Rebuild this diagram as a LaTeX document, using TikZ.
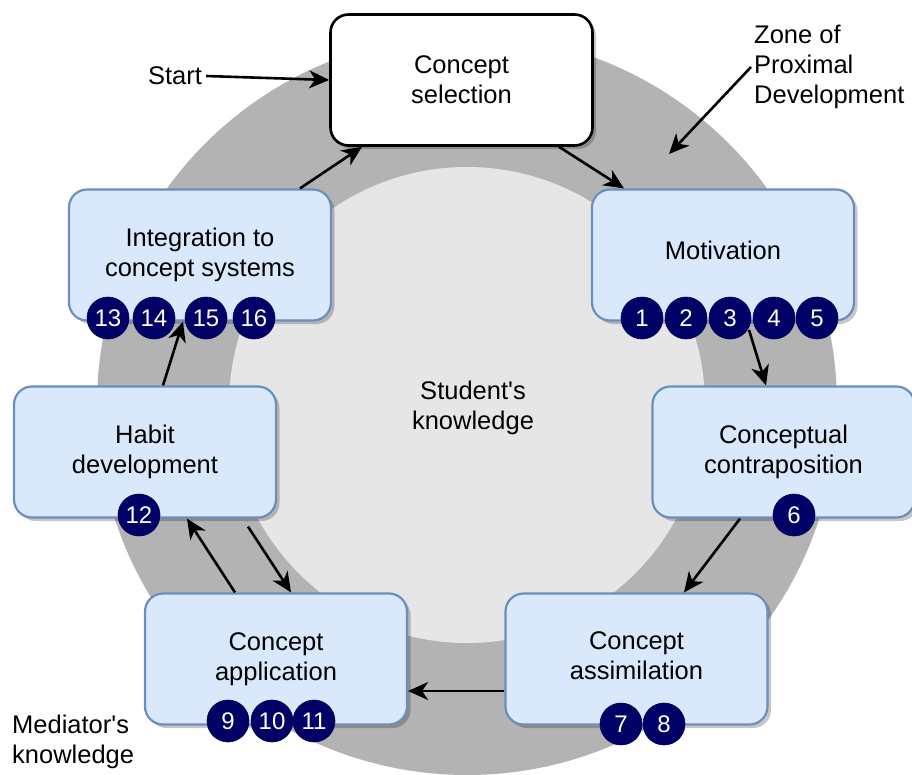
\documentclass[tikz,border=0pt]{standalone}
\usepackage{fontspec}
\setmainfont{Liberation Sans}
\usetikzlibrary{arrows.meta,shadows,calc}
\definecolor{ringgray}{HTML}{B3B3B3}
\definecolor{innergray}{HTML}{E6E6E6}
\definecolor{boxfill}{HTML}{DAE8FC}
\definecolor{boxline}{HTML}{6C8EBF}
\definecolor{badgecol}{HTML}{000066}
\newcommand\dgfont{\fontsize{25.5}{30}\selectfont}
\newcommand\badgefont{\fontsize{24}{24}\selectfont}
\begin{document}
\begin{tikzpicture}[x=1pt,y=-1pt,
  boxshadow/.style={drop shadow={shadow xshift=3.5pt,shadow yshift=-3.5pt,fill=black,opacity=0.22}},
  stagebox/.style={draw=boxline, fill=boxfill, line width=2.2pt, rounded corners=18pt,
    minimum width=262pt, minimum height=131pt, align=center, font=\dgfont, boxshadow},
  startbox/.style={stagebox, draw=black, fill=white, line width=2.6pt},
  badge/.style={circle, minimum size=42pt, inner sep=0pt, fill=badgecol, draw=badgecol!80!black,
    line width=0.6pt, text=white, font=\badgefont},
  plain/.style={inner sep=0pt, font=\dgfont},
  arr/.style={line width=2.6pt, draw=black, -{Stealth[length=20pt,width=18pt,inset=6pt]}}
]
\useasboundingbox (0,0) rectangle (912,774);
% rings
\fill[ringgray] (467,405) circle[radius=370];
\fill[innergray] (467,405) circle[radius=238];

% stage boxes
\node[startbox] (sel) at (461.5,80) {Concept\\selection};
\node[stagebox] (integ) at (200,255) {Integration to\\concept systems};
\node[stagebox, text depth=10pt] (mot) at (723,255) {Motivation};
\node[stagebox] (habit) at (145,452) {Habit\\development};
\node[stagebox] (contra) at (783.5,452) {Conceptual\\contraposition};
\node[stagebox] (app) at (276,659) {Concept\\application};
\node[stagebox, text depth=6pt] (assim) at (636.5,659) {Concept\\assimilation};

% badges
\node[badge] (b1) at (642,318) {1};
\node[badge] (b2) at (686,318) {2};
\node[badge] (b3) at (730,318) {3};
\node[badge] (b4) at (774,318) {4};
\node[badge] (b5) at (817,318) {5};
\node[badge] (b6) at (794,515) {6};
\node[badge] (b7) at (621,724) {7};
\node[badge] (b8) at (664,724) {8};
\node[badge] (b9) at (228,721) {9};
\node[badge] (b10) at (272,721) {10};
\node[badge] (b11) at (314,721) {11};
\node[badge] (b12) at (139,515) {12};
\node[badge] (b13) at (108,318) {13};
\node[badge] (b14) at (154,318) {14};
\node[badge] (b15) at (206,318) {15};
\node[badge] (b16) at (254,318) {16};

% free labels
\node[plain] (start) at (175,76) {Start};
\node[plain, anchor=west, align=left] (zone) at (754,67) {Zone of\\Proximal\\Development};
\node[plain, align=center] (student) at (473,408) {Student\textquotesingle s\\knowledge};
\node[plain, anchor=west, align=left] (mediator) at (12,742) {Mediator\textquotesingle s\\knowledge};

\coordinate (zoneA) at (751,67);
\coordinate (zoneB) at (669,154);

% connectors
\draw[arr] (start.east) ++(4,0) -- (sel.west);
\draw[arr] (zoneA) -- (zoneB);
\draw[arr] ([xshift=100pt]integ.north) -- ([xshift=-99.5pt]sel.south);
\draw[arr] ([xshift=97.5pt]sel.south) -- ([xshift=-99pt]mot.north);
\draw[arr] ($(b3.center)+(19,12)$) -- ([xshift=-17.5pt]contra.north);
\draw[arr] ([xshift=-43.5pt]contra.south) -- ([xshift=47.5pt]assim.north);
\draw[arr] ([yshift=-32pt]assim.west) -- ([yshift=-32pt]app.east);
\draw[arr] ([xshift=-41pt]app.north) -- ([xshift=42pt]habit.south);
\draw[arr] ([xshift=103pt,yshift=-8pt]habit.south) -- ([xshift=15pt]app.north);
\draw[arr] ([xshift=18pt]habit.north) -- ([xshift=-17pt]integ.south);
\end{tikzpicture}
\end{document}
